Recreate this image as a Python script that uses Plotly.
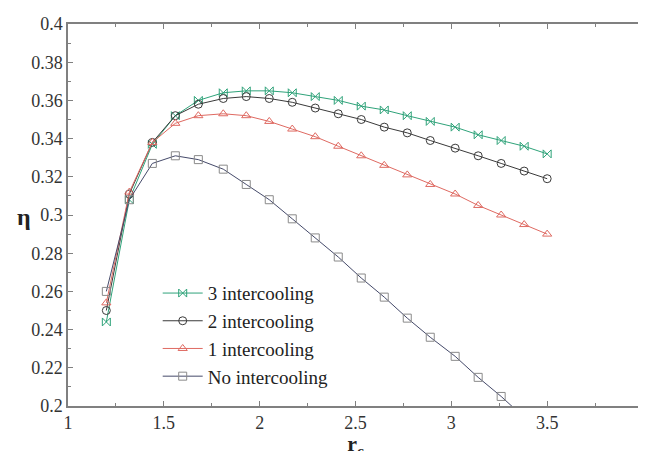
import plotly.graph_objects as go

rc = [1.20, 1.32, 1.44, 1.56, 1.68, 1.81, 1.93, 2.05, 2.17, 2.29,
      2.41, 2.53, 2.65, 2.77, 2.89, 3.02, 3.14, 3.26, 3.38, 3.50]

eta_3 = [0.244, 0.308, 0.337, 0.352, 0.360, 0.364, 0.365, 0.365, 0.364, 0.362,
         0.360, 0.357, 0.355, 0.352, 0.349, 0.346, 0.342, 0.339, 0.336, 0.332]
eta_2 = [0.250, 0.311, 0.338, 0.352, 0.358, 0.361, 0.362, 0.361, 0.359, 0.356,
         0.353, 0.350, 0.346, 0.343, 0.339, 0.335, 0.331, 0.327, 0.323, 0.319]
eta_1 = [0.254, 0.312, 0.338, 0.348, 0.352, 0.353, 0.352, 0.349, 0.345, 0.341,
         0.336, 0.331, 0.326, 0.321, 0.316, 0.311, 0.305, 0.300, 0.295, 0.290]
eta_0 = [0.260, 0.308, 0.327, 0.331, 0.329, 0.324, 0.316, 0.308, 0.298, 0.288,
         0.278, 0.267, 0.257, 0.246, 0.236, 0.226, 0.215, 0.205, 0.194, 0.183]

x_ticks = [1, 1.5, 2, 2.5, 3, 3.5, 4]
x_tick_labels = ["1", "1.5", "2", "2.5", "3", "3.5", "4"]

names = ["3 intercooling", "2 intercooling", "1 intercooling", "No intercooling"]
series = [eta_3, eta_2, eta_1, eta_0]
line_colors = ["#2fa37a", "#3a3a3a", "#df6a62", "#454a6a"]
marker_colors = ["#2fa37a", "#3a3a3a", "#df6a62", "#8a8a8a"]
symbols = ["bowtie-open", "circle-open", "triangle-up-open", "square-open"]

SERIF = "Liberation Serif"

fig = go.Figure()
for name, ys, lc, mc, sym in zip(names, series, line_colors, marker_colors, symbols):
    fig.add_trace(go.Scatter(
        x=rc, y=ys, name=name, mode="lines+markers",
        line=dict(color=lc, width=1),
        marker=dict(symbol=sym, size=8, color=mc, line=dict(color=mc, width=1)),
        cliponaxis=True,
    ))

axis_common = dict(
    showline=True, linecolor="#808080", linewidth=1.5, mirror="ticks",
    ticks="inside", ticklen=5, tickcolor="#808080",
    showgrid=False, zeroline=False, ticklabeloverflow="allow",
    tickfont=dict(family=SERIF, size=18, color="#333"),
)

fig.update_layout(
    width=646, height=451,
    margin=dict(l=60, r=6, t=16, b=48),
    paper_bgcolor="white", plot_bgcolor="white",
    showlegend=True,
    font=dict(family=SERIF),
    legend=dict(x=0.156, y=0.345, xanchor="left", yanchor="top",
                bgcolor="rgba(0,0,0,0)",
                font=dict(family=SERIF, size=19, color="#222"),
                tracegroupgap=0, itemwidth=40),
    xaxis=dict(range=[1, 4], tickmode="array", tickvals=x_ticks, ticktext=x_tick_labels,
               minor=dict(ticks="inside", dtick=0.25, tick0=1, ticklen=3, tickcolor="#808080"),
               title=dict(text="<b>r<sub>c</sub></b>", standoff=4,
                          font=dict(family=SERIF, size=22, color="#222")),
               **axis_common),
    yaxis=dict(range=[0.2, 0.4], dtick=0.02, tick0=0.2,
               minor=dict(ticks="inside", dtick=0.01, ticklen=3, tickcolor="#808080"),
               **axis_common),
    annotations=[dict(text="<b>η</b>", xref="paper", yref="paper",
                      x=-0.076, y=0.495, xanchor="center", yanchor="middle",
                      showarrow=False,
                      font=dict(family=SERIF, size=24, color="#222"))],
)

fig.write_html("out.html")
